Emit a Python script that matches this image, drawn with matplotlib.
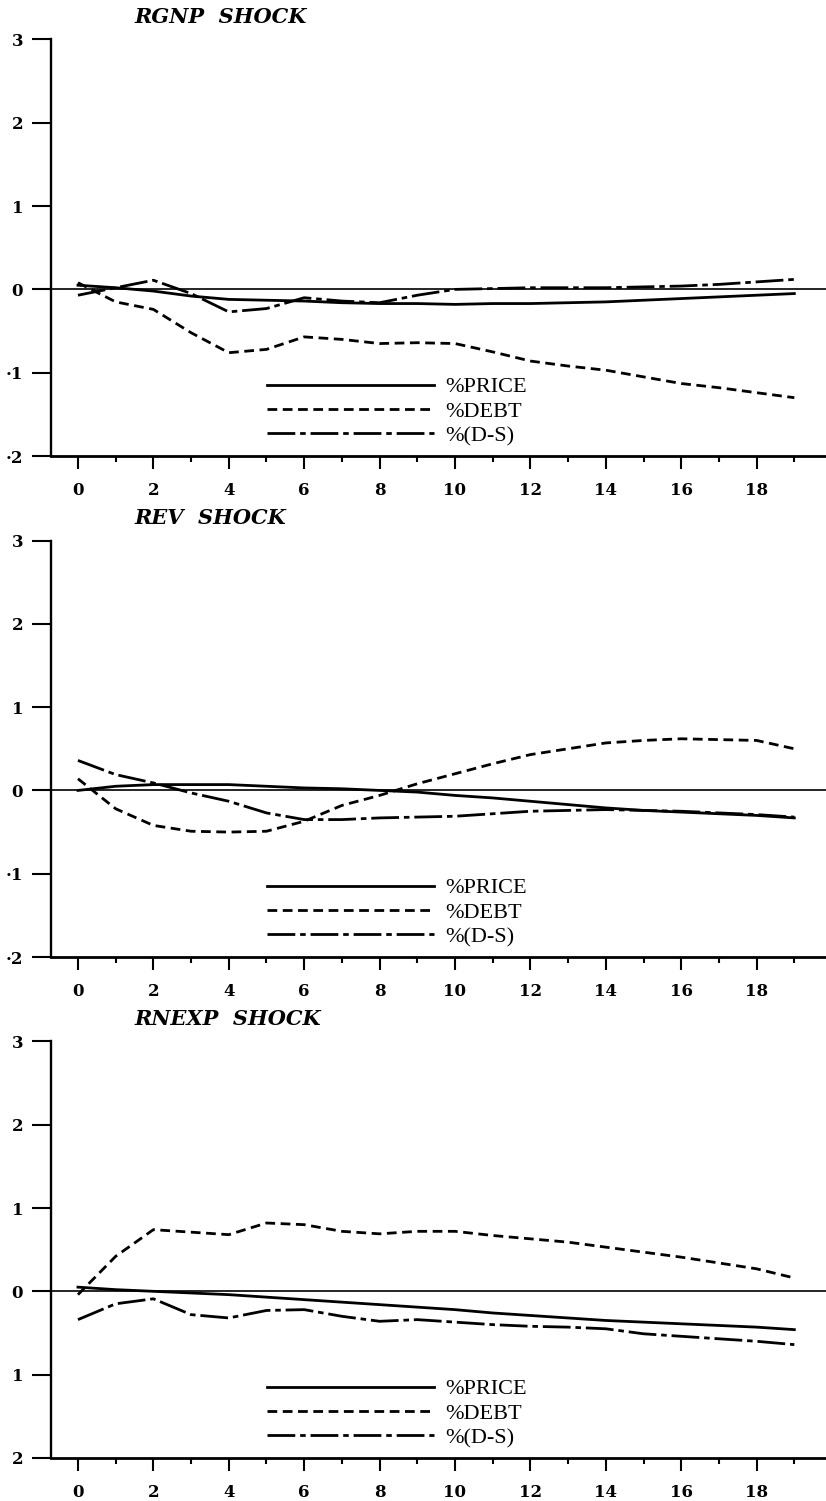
import matplotlib.pyplot as plt
from matplotlib.ticker import MultipleLocator

plt.rcParams['font.family'] = ['Liberation Serif', 'DejaVu Serif']
plt.rcParams['lines.scale_dashes'] = False

# horizon (periods after the shock)
steps = list(range(20))
xticks = [0, 2, 4, 6, 8, 10, 12, 14, 16, 18]
yticks = [3, 2, 1, 0, -1, -2]

# RGNP shock
rgnp_price = [0.05, 0.02, -0.02, -0.08, -0.12, -0.13, -0.14, -0.16, -0.17, -0.17,
              -0.18, -0.17, -0.17, -0.16, -0.15, -0.13, -0.11, -0.09, -0.07, -0.05]
rgnp_debt = [0.08, -0.15, -0.24, -0.52, -0.76, -0.72, -0.57, -0.60, -0.65, -0.64,
             -0.65, -0.75, -0.86, -0.92, -0.97, -1.05, -1.13, -1.18, -1.24, -1.30]
rgnp_ds = [-0.07, 0.02, 0.11, -0.05, -0.27, -0.23, -0.10, -0.14, -0.16, -0.07,
           0.00, 0.01, 0.02, 0.02, 0.02, 0.03, 0.04, 0.06, 0.09, 0.12]

# REV shock
rev_price = [0.00, 0.05, 0.07, 0.07, 0.07, 0.05, 0.03, 0.02, 0.00, -0.02,
             -0.06, -0.09, -0.13, -0.17, -0.21, -0.24, -0.26, -0.28, -0.30, -0.33]
rev_debt = [0.14, -0.22, -0.42, -0.49, -0.50, -0.49, -0.37, -0.18, -0.06, 0.08,
            0.20, 0.32, 0.43, 0.50, 0.57, 0.60, 0.62, 0.61, 0.60, 0.50]
rev_ds = [0.36, 0.19, 0.09, -0.03, -0.13, -0.27, -0.35, -0.35, -0.33, -0.32,
          -0.31, -0.28, -0.25, -0.24, -0.23, -0.24, -0.25, -0.27, -0.29, -0.32]

# RNEXP shock
rnexp_price = [0.05, 0.02, 0.00, -0.02, -0.04, -0.07, -0.10, -0.13, -0.16, -0.19,
               -0.22, -0.26, -0.29, -0.32, -0.35, -0.37, -0.39, -0.41, -0.43, -0.46]
rnexp_debt = [-0.04, 0.42, 0.74, 0.71, 0.68, 0.82, 0.80, 0.72, 0.69, 0.72,
              0.72, 0.67, 0.63, 0.59, 0.53, 0.47, 0.41, 0.34, 0.27, 0.16]
rnexp_ds = [-0.34, -0.15, -0.09, -0.28, -0.32, -0.23, -0.22, -0.30, -0.36, -0.34,
            -0.37, -0.40, -0.42, -0.43, -0.45, -0.51, -0.54, -0.57, -0.60, -0.64]

series_names = ['%PRICE', '%DEBT', '%(D-S)']
ylabels_top = ['3', '2', '1', '0', '\u00b71', '\u00b72']
ylabels_bottom = ['3', '2', '1', '0', '1', '2']

panels = [
    ('RGNP  SHOCK', rgnp_price, rgnp_debt, rgnp_ds, ylabels_top, 0.6962),
    ('REV  SHOCK', rev_price, rev_debt, rev_ds, ylabels_top, 0.3624),
    ('RNEXP  SHOCK', rnexp_price, rnexp_debt, rnexp_ds, ylabels_bottom, 0.0287),
]

fig = plt.figure(figsize=(8.26, 15.01), dpi=100)

for title, price, debt, ds, ylabels, bottom in panels:
    ax = fig.add_axes([0.0617, bottom, 0.9383, 0.2775])

    ax.axhline(0, color='black', lw=1.2, zorder=1)
    ax.plot(steps, price, color='black', lw=2.0, ls='-', label=series_names[0])
    ax.plot(steps, debt, color='black', lw=2.0, ls=(0, (7, 4)), label=series_names[1])
    ax.plot(steps, ds, color='black', lw=2.0, ls=(0, (20, 3.5, 4, 3.5)), label=series_names[2])

    ax.set_xlim(-0.716, 19.84)
    ax.set_ylim(-2, 3)

    for side in ['top', 'right']:
        ax.spines[side].set_visible(False)
    ax.spines['left'].set_linewidth(1.7)
    ax.spines['bottom'].set_linewidth(2.0)

    ax.set_xticks(xticks)
    ax.xaxis.set_minor_locator(MultipleLocator(1))
    ax.set_yticks(yticks)
    ax.set_yticklabels(ylabels)
    ax.tick_params(axis='y', direction='out', length=14, width=1.5, pad=6,
                   labelsize=12)
    ax.tick_params(axis='x', which='major', direction='out', length=9.5, width=1.5,
                   pad=9, labelsize=12)
    ax.tick_params(axis='x', which='minor', direction='out', length=4.5, width=1.5)
    for lab in ax.get_xticklabels() + ax.get_yticklabels():
        lab.set_fontweight('bold')
        lab.set_family('DejaVu Serif')

    ax.text(0.108, 1.03, title, transform=ax.transAxes, ha='left', va='bottom',
            fontsize=15, fontweight='bold', fontstyle='italic', family='DejaVu Serif')

    leg = ax.legend(loc='upper left', bbox_to_anchor=(0.279, 0.19), frameon=False,
                    fontsize=16, handlelength=7.5, handletextpad=0.5,
                    labelspacing=0.17, borderpad=0, borderaxespad=0)

fig.savefig('out.png', dpi=100)
